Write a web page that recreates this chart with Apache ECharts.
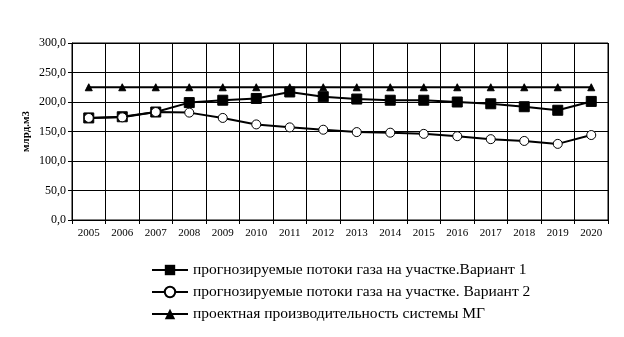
<!DOCTYPE html>
<html><head><meta charset="utf-8">
<script src="https://cdn.jsdelivr.net/npm/echarts@6/dist/echarts.min.js"></script>
<style>html,body{margin:0;padding:0;background:#fff}#c{width:624px;height:337px}</style>
</head><body><div id="c"></div>
<script>
var categories = ['2005','2006','2007','2008','2009','2010','2011','2012','2013','2014','2015','2016','2017','2018','2019','2020'];
var variant1 = [173,175,183,199,203,206,217,209,205,203,203,200,197,192,186,201];
var variant2 = [173,174,183,182,173,162,157,153,149,148,146,142,137,134,129,144];
var capacity = [225,225,225,225,225,225,225,225,225,225,225,225,225,225,225,225];
var names = ['прогнозируемые потоки газа на участке.Вариант 1','прогнозируемые потоки газа на участке. Вариант 2','проектная производительность системы МГ'];
var font = 'Liberation Serif, Times New Roman, serif';
var chart = echarts.init(document.getElementById('c'), null, {renderer:'canvas'});
chart.setOption({
  animation:false,
  backgroundColor:'#fff',
  textStyle:{fontFamily:font,color:'#000'},
  grid:{left:72,right:16,top:43,bottom:117,show:true,borderColor:'#000',borderWidth:1},
  legend:{orient:'vertical',left:146,top:257,itemGap:6,itemWidth:36,itemHeight:13,
    textStyle:{fontFamily:font,fontSize:15.5,color:'#000'},
    data:names},
  xAxis:{type:'category',data:categories,boundaryGap:true,
    axisLine:{lineStyle:{color:'#000',width:1}},
    axisTick:{show:true,length:4,lineStyle:{color:'#000'}},
    splitLine:{show:true,lineStyle:{color:'#000',width:1}},
    axisLabel:{fontFamily:font,fontSize:11,color:'#000',margin:8}},
  yAxis:{type:'value',min:0,max:300,interval:50,
    name:'млрд.м3',nameLocation:'middle',nameGap:40,nameRotate:90,nameMoveOverlap:false,
    nameTextStyle:{fontFamily:font,fontSize:11,fontWeight:'bold',color:'#000'},
    axisLine:{show:true,lineStyle:{color:'#000'}},
    axisTick:{show:true,length:4,lineStyle:{color:'#000'}},
    splitLine:{show:true,lineStyle:{color:'#000',width:1}},
    axisLabel:{fontFamily:font,fontSize:12,color:'#000',margin:6,
      formatter:function(v){return v.toFixed(1).replace('.',',');}}},
  series:[
    {name:names[0],type:'line',data:variant1,symbol:'rect',symbolSize:10,
      lineStyle:{color:'#000',width:2},itemStyle:{color:'#000',borderColor:'#000'},z:2},
    {name:names[1],type:'line',data:variant2,symbol:'circle',symbolSize:9,
      lineStyle:{color:'#000',width:2},itemStyle:{color:'#fff',borderColor:'#000',borderWidth:1},z:3},
    {name:names[2],type:'line',data:capacity,symbol:'triangle',symbolSize:7,
      lineStyle:{color:'#000',width:2},itemStyle:{color:'#000',borderColor:'#000'},z:4}
  ]
});
</script></body></html>
